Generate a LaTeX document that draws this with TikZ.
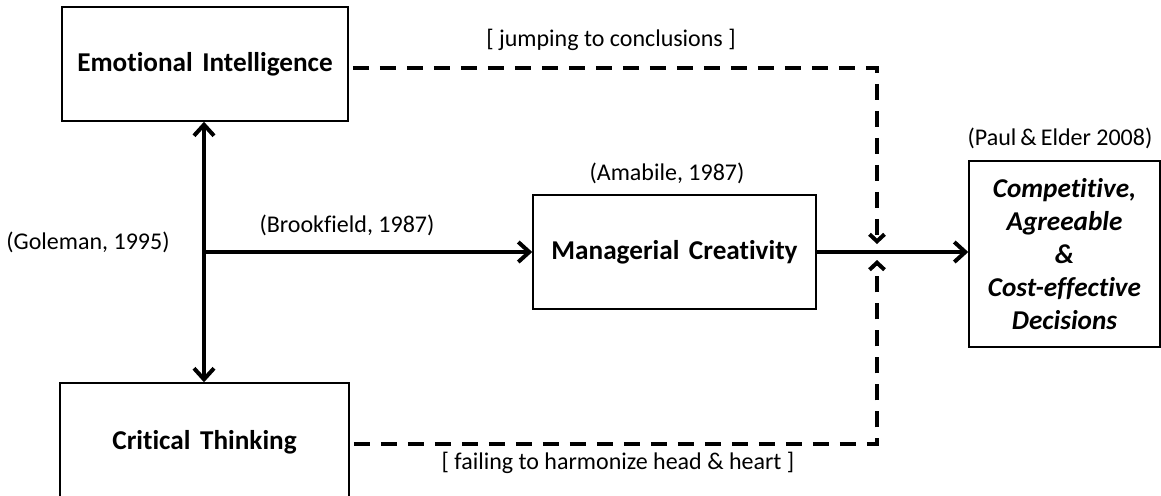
\documentclass[tikz,border=0pt]{standalone}
\usepackage{fontspec}
\setmainfont{Carlito}[Ligatures=NoCommon]
\usetikzlibrary{arrows.meta}
\begin{document}
\begin{tikzpicture}[x=0.5pt,y=-0.5pt,
  every node/.style={font=\fontsize{12}{14}\selectfont},
  box/.style={draw, line width=0.75pt, inner sep=0pt, align=center,
    font=\fontsize{13.6}{16.5}\selectfont\bfseries},
  label/.style={inner sep=0pt, font=\fontsize{12}{14}\selectfont},
  solidarrow/.style={line width=2pt, -{Straight Barb[length=5.5pt,width=10pt]}},
  bothways/.style={line width=2pt, {Straight Barb[length=5.5pt,width=10pt]}-{Straight Barb[length=5.5pt,width=10pt]}},
  dashline/.style={line width=2pt, dash pattern=on 8pt off 5.5pt, -{Straight Barb[length=3.5pt,width=7.5pt]}}]
\useasboundingbox (0,0) rectangle (1161,495);

\node[box, minimum width=143pt, minimum height=57pt] (EI) at (205,64) {Emotional\hspace{0.35em}Intelligence};
\node[box, minimum width=144.5pt, minimum height=59pt] (CT) at (204.5,442) {Critical\hspace{0.35em}Thinking};
\node[box, minimum width=141.5pt, minimum height=57pt] (MC) at (674.5,252) {Managerial\hspace{0.35em}Creativity};
\node[box, minimum width=95.5pt, minimum height=93pt,
  font=\fontsize{13.6}{16.5}\selectfont\bfseries\itshape] (DEC) at (1064.5,254)
  {Competitive,\\Agreeable\\\&\\Cost-effective\\Decisions};

\node[label] (jump) at (611,40) {[ jumping to conclusions ]};
\node[label] (ama) at (667,173) {(Amabile, 1987)};
\node[label] (paul) at (1060,138) {(Paul\,\&\,Elder 2008)};
\node[label] (brook) at (347,225) {(Brookfield, 1987)};
\node[label] (gole) at (88,242) {(Goleman, 1995)};
\node[label] (fail) at (618,463) {[ failing to harmonize head \& heart ]};

\coordinate (J) at (204,252);
\coordinate (C1) at (877,68);
\coordinate (T1) at (877,244);
\coordinate (C2) at (877,444);
\coordinate (T2) at (877,260);

\draw[bothways] (EI.south -| J) -- (CT.north -| J);
\draw[solidarrow] (J) -- (MC.west);
\draw[solidarrow] (MC.east) -- (DEC.west |- MC.east);

\draw[dashline] ([xshift=2pt,yshift=-2pt]EI.east) -- (C1) -- (T1);
\draw[dashline] ([xshift=2pt,yshift=-1pt]CT.east) -- (C2) -- (T2);
\end{tikzpicture}
\end{document}
